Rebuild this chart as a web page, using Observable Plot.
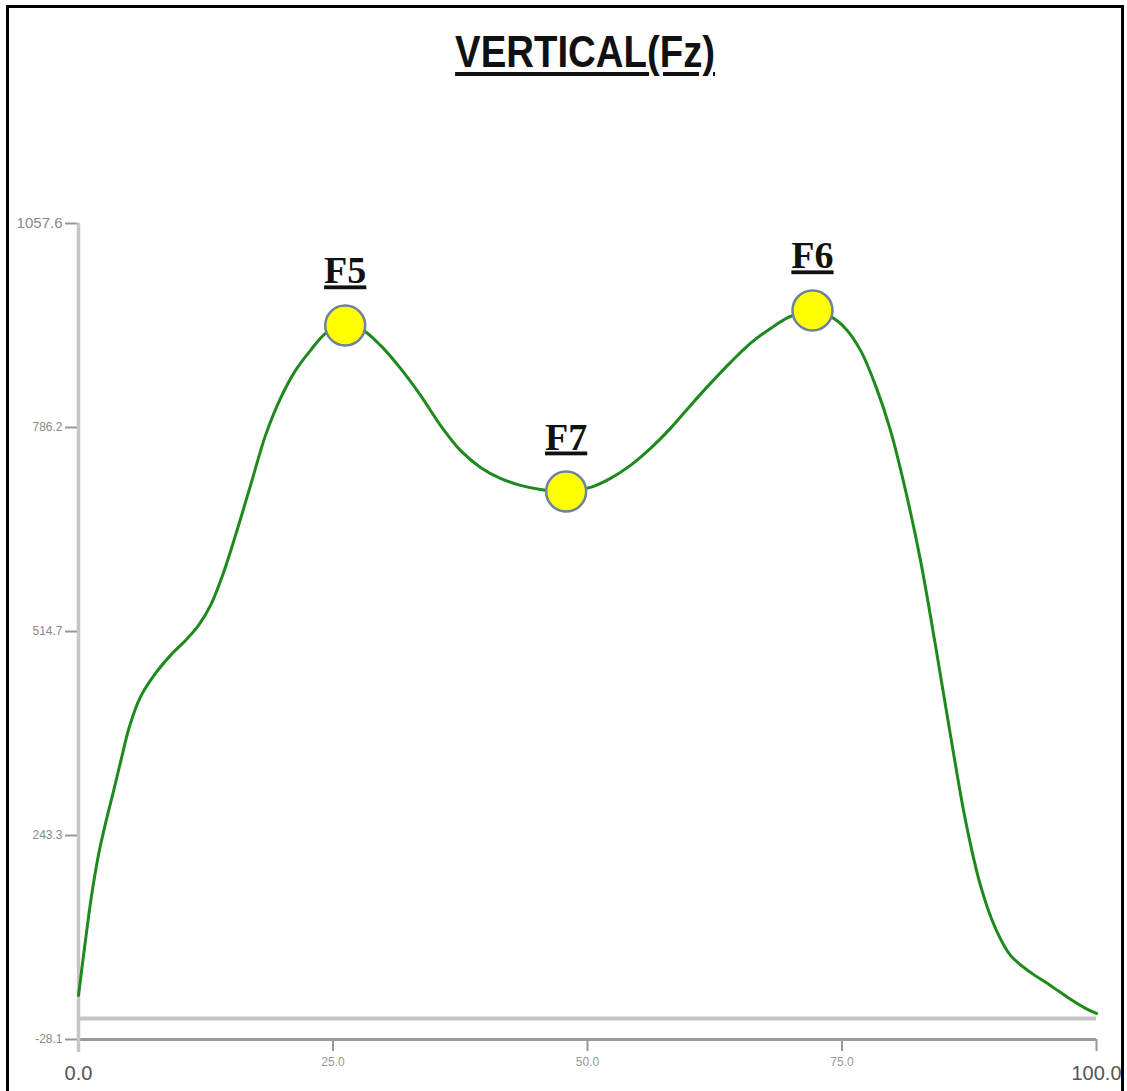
<!DOCTYPE html>
<html><head><meta charset="utf-8">
<script src="https://cdn.jsdelivr.net/npm/d3@7"></script>
<script src="https://cdn.jsdelivr.net/npm/@observablehq/plot@0.6"></script>
<style>
body{margin:0;background:#fff;width:1127px;height:1091px;overflow:hidden;position:relative;font-family:"Liberation Sans",Arial,sans-serif}
#frame{position:absolute;left:6px;top:5px;width:1118px;height:1140px;border:3px solid #000;box-sizing:border-box;pointer-events:none;z-index:2}
#title{position:absolute;top:30px;left:0;width:1170px;text-align:center;line-height:44px;height:60px}
#title span{display:inline-block;font-size:44px;font-weight:bold;color:#111;transform:scaleX(0.872);transform-origin:center;text-decoration:underline;text-decoration-thickness:4px;text-underline-offset:5px}
#chart{position:absolute;left:0;top:100px}
</style></head>
<body>
<div id="frame"></div>
<div id="title"><span>VERTICAL(Fz)</span></div>
<div id="chart"></div>
<script>
const pct = [0,0.6,1.3,2.0,2.7,3.4,4.2,5.0,6.1,7.56,9.04,10.51,11.79,12.97,14.15,15.42,16.90,18.37,19.84,21.32,22.79,24.26,26.03,27.70,29.67,31.63,33.60,35.56,37.52,39.49,41.45,43.42,45.38,47.94,50.29,52.26,54.22,56.19,58.15,60.12,62.08,64.05,66.0,67.98,69.94,72.10,73.87,75.34,76.82,78.29,79.76,81.24,82.71,84.18,85.66,87.13,88.6,90.08,91.55,93.52,95.48,97.45,98.92,100];
const force = [30.6,95,165,220,262,300,345,388,428,459,483,502.9,522.9,549.5,589.4,642.6,709.2,775.7,824.9,862.2,888.8,911.4,924.7,918.0,895.4,864.8,828.9,789.0,755.7,733.1,718.5,709.2,703.8,701.2,706.5,718.5,735.8,758.4,785.0,815.6,844.9,872.8,898.1,918.0,934.0,942.0,934.0,918.0,888.8,842.2,782.3,702.5,609.4,496.3,376.5,263.4,177.0,119.7,83.8,61.2,43.9,25.3,13.3,6.5];
const peakNames = ["F5","F7","F6"];
const peakX = [26.2,47.9,72.1];
const peakY = [922,701,942];
const yTicks = [1057.6,786.2,514.7,243.3,-28.1];
const xTicksSmall = [25,50,75];
const xTicksBig = [0,100];

const curve = pct.map((x,i)=>({x, y: force[i]}));
const peaks = peakNames.map((n,i)=>({name:n, x:peakX[i], y:peakY[i]}));

const plot = Plot.plot({
  width:1127, height:991,
  marginLeft:78, marginRight:31, marginTop:123, marginBottom:52,
  x:{domain:[0,100], axis:null},
  y:{domain:[-28.1,1057.6], axis:null},
  style:{fontFamily:"Liberation Sans, Arial, sans-serif", background:"transparent", overflow:"visible"},
  marks:[
    Plot.ruleY([0], {stroke:"#c4c4c4", strokeWidth:4}),
    Plot.ruleY([-28.1], {stroke:"#9a9a9a", strokeWidth:3}),
    Plot.axisX({ticks:[...xTicksSmall,100], tickSize:12, tickFormat:()=>"", label:null, stroke:"#999", strokeWidth:2}),
    Plot.axisY({ticks:yTicks, tickSize:13, tickFormat:()=>"", label:null, stroke:"#999", strokeWidth:2}),
    Plot.ruleX([0], {stroke:"#c6c6c6", strokeWidth:3.5, insetBottom:-13}),
    Plot.text(yTicks, {y:d=>d, text:d=>d.toFixed(1), frameAnchor:"left", dx:-16, textAnchor:"end", fontSize:d=>d===1057.6?15:12, fill:"#888"}),
    Plot.text(xTicksSmall, {x:d=>d, text:d=>d.toFixed(1), frameAnchor:"bottom", lineAnchor:"top", dy:18, fontSize:12, fill:"#999"}),
    Plot.text(xTicksBig, {x:d=>d, text:d=>d.toFixed(1), frameAnchor:"bottom", lineAnchor:"top", dy:26, fontSize:20, fill:"#555"}),
    Plot.line(curve, {x:"x", y:"y", curve:"catmull-rom", stroke:"#1e8a1e", strokeWidth:3}),
    Plot.dot(peaks, {x:"x", y:"y", r:20, fill:"#ffff00", stroke:"#7080a0", strokeWidth:2.5}),
    Plot.text(peaks, {x:"x", y:"y", text:"name", dy:-42, lineAnchor:"bottom", fontFamily:"Liberation Serif, Times New Roman, serif", fontWeight:"bold", fontSize:38, fill:"#111"})
  ]
});
d3.select(plot).selectAll("text").filter(function(){return /^F\d$/.test(this.textContent);})
  .style("text-decoration","underline").style("text-decoration-thickness","4px").style("text-underline-offset","5px");
document.getElementById("chart").appendChild(plot);
</script>
</body></html>
